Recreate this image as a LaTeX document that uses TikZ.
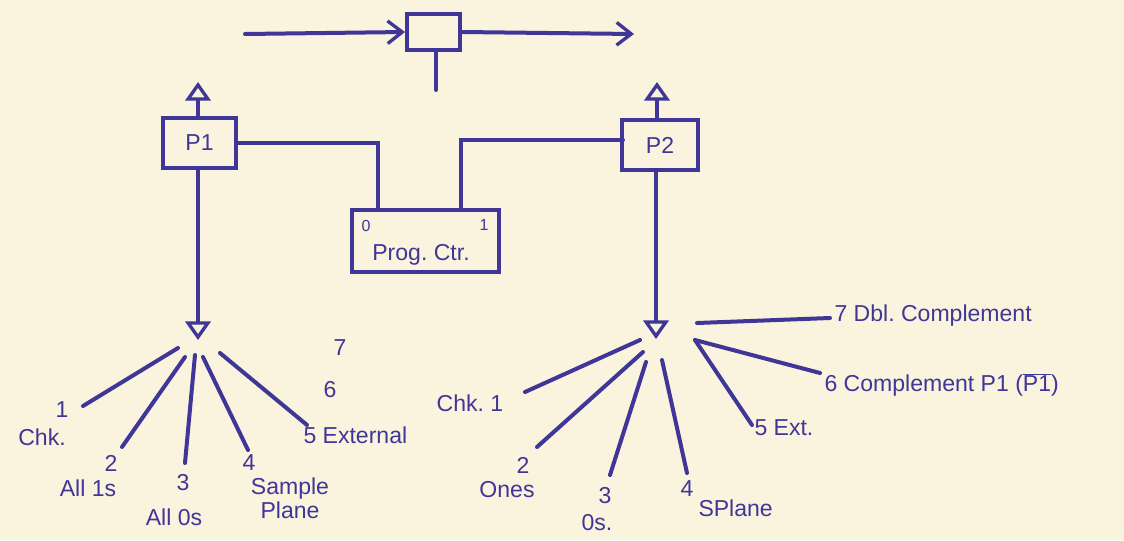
\documentclass[tikz,border=0pt]{standalone}
\usepackage{fontspec}
\setmainfont{Liberation Sans}
\usetikzlibrary{arrows.meta}

\definecolor{ink}{RGB}{64,54,152}
\definecolor{paper}{RGB}{250,243,222}

\tikzset{every picture/.style={line width=0.75pt}}
\tikzset{
  wire/.style={draw=ink, line width=3pt, line cap=round},
  blk/.style={draw=ink, line width=3pt, inner sep=0pt, text=ink, font=\LARGE},
  lbl/.style={text=ink, inner sep=0.75pt, font=\LARGE},
  barb/.style={-{Straight Barb[length=11pt,width=17pt,line width=2.5pt]}},
  tri/.style={-{Triangle[open,length=14pt,width=19pt,line width=2.5pt]}}
}

\begin{document}
\begin{tikzpicture}[x=0.75pt,y=0.75pt,yscale=-1,xscale=1]
%set diagram left start at 0, and has height of 540
\fill[paper] (0,0) rectangle (1124,540);
\useasboundingbox (0,0) rectangle (1124,540);

%Shape: Rectangle [id:top box]
\node[blk, minimum width=39.75pt, minimum height=27pt] (gate) at (433.5,32) {};
%Shape: Rectangle [id:P1]
\node[blk, minimum width=54.75pt, minimum height=37.5pt] (p1) at (199.5,143) {P1};
%Shape: Rectangle [id:P2]
\node[blk, minimum width=57pt, minimum height=37.5pt] (p2) at (660,145) {P2};
%Shape: Rectangle [id:Prog. Ctr.]
\node[blk, minimum width=110.25pt, minimum height=46.5pt] (pc) at (425.5,241) {};

% Free ends
\coordinate (in0) at (245,34);
\coordinate (out0) at (634,34);
\coordinate (stub) at (436,90);
\coordinate (p1up) at (198,82);
\coordinate (p2up) at (657,82);
\coordinate (pc0) at (378,210);
\coordinate (pc1) at (461,210);
\coordinate (p2in) at (623,140);
\coordinate (hubL) at (198,340);
\coordinate (hubR) at (656,339);

%Straight Lines [id:top arrows]
\draw[wire, barb] (in0) -- (gate.west);
\draw[wire, barb] (gate.east) -- (out0);
\draw[wire] (gate.south -| stub) -- (stub);

%Straight Lines [id:P1 / P2 up and down]
\draw[wire, tri] (p1.north -| p1up) -- (p1up);
\draw[wire, tri] (p2.north -| p2up) -- (p2up);
\draw[wire, tri] (p1.south -| hubL) -- (hubL);
\draw[wire, tri] (p2.south -| hubR) -- (hubR);

%Straight Lines [id:Prog. Ctr. links]
\draw[wire] (p1.east) -| (pc0);
\draw[wire] (pc1) |- (p2in);

% Text Node
\node[lbl, font=\large] (pczero) at (366,226) {0};
% Text Node
\node[lbl, font=\large] (pcone) at (484,225) {1};
% Text Node
\node[lbl] (pctext) at (421,255) {Prog.\ Ctr.};

%Straight Lines [id:left fan]
\coordinate (l1a) at (178,348); \coordinate (l1b) at (83,406);
\coordinate (l2a) at (185,357); \coordinate (l2b) at (122,447);
\coordinate (l3a) at (195,355); \coordinate (l3b) at (185,463);
\coordinate (l4a) at (203,357); \coordinate (l4b) at (248,450);
\coordinate (l5a) at (220,353); \coordinate (l5b) at (307,425);
\draw[wire] (l1a) -- (l1b);
\draw[wire] (l2a) -- (l2b);
\draw[wire] (l3a) -- (l3b);
\draw[wire] (l4a) -- (l4b);
\draw[wire] (l5a) -- (l5b);

% Text Node
\node[lbl] (ln1) at (62,410) {1};
\node[lbl] (lchk) at (42,437) {Chk.};
% Text Node
\node[lbl] (ln2) at (111,463) {2};
\node[lbl] (lones) at (88,488) {All 1s};
% Text Node
\node[lbl] (ln3) at (183,483) {3};
\node[lbl] (lzeros) at (174,517) {All 0s};
% Text Node
\node[lbl] (ln4) at (249,463) {4};
\node[lbl, align=center] (lplane) at (290,498) {Sample\\[-4pt]Plane};
% Text Node
\node[lbl, anchor=west] (ln5) at (302,435) {5 External};
% Text Node
\node[lbl] (ln6) at (330,390) {6};
\node[lbl] (ln7) at (340,348) {7};

%Straight Lines [id:right fan]
\coordinate (r1a) at (640,340); \coordinate (r1b) at (525,392);
\coordinate (r2a) at (643,352); \coordinate (r2b) at (537,447);
\coordinate (r3a) at (646,362); \coordinate (r3b) at (610,475);
\coordinate (r4a) at (662,360); \coordinate (r4b) at (687,473);
\coordinate (r5a) at (695,340); \coordinate (r5b) at (752,425);
\coordinate (r6a) at (695,340); \coordinate (r6b) at (820,373);
\coordinate (r7a) at (697,323); \coordinate (r7b) at (830,318);
\draw[wire] (r1a) -- (r1b);
\draw[wire] (r2a) -- (r2b);
\draw[wire] (r3a) -- (r3b);
\draw[wire] (r4a) -- (r4b);
\draw[wire] (r5a) -- (r5b);
\draw[wire] (r6a) -- (r6b);
\draw[wire] (r7a) -- (r7b);

% Text Node
\node[lbl] (rchk) at (470,403) {Chk.\ 1};
% Text Node
\node[lbl] (rn2) at (523,465) {2};
\node[lbl] (rones) at (507,490) {Ones};
% Text Node
\node[lbl] (rn3) at (605,496) {3};
\node[lbl] (rzeros) at (597,523) {0s.};
% Text Node
\node[lbl] (rn4) at (687,489) {4};
\node[lbl, anchor=west] (rplane) at (697,508) {SPlane};
% Text Node
\node[lbl, anchor=west] (rn5) at (753,428) {5 Ext.};
% Text Node
\node[lbl, anchor=west] (rn6) at (823,385) {6 Complement P1 ($\overline{\mathrm{P1}}$)};
% Text Node
\node[lbl, anchor=west] (rn7) at (833,316) {7 Dbl.\ Complement};

\end{tikzpicture}
\end{document}
